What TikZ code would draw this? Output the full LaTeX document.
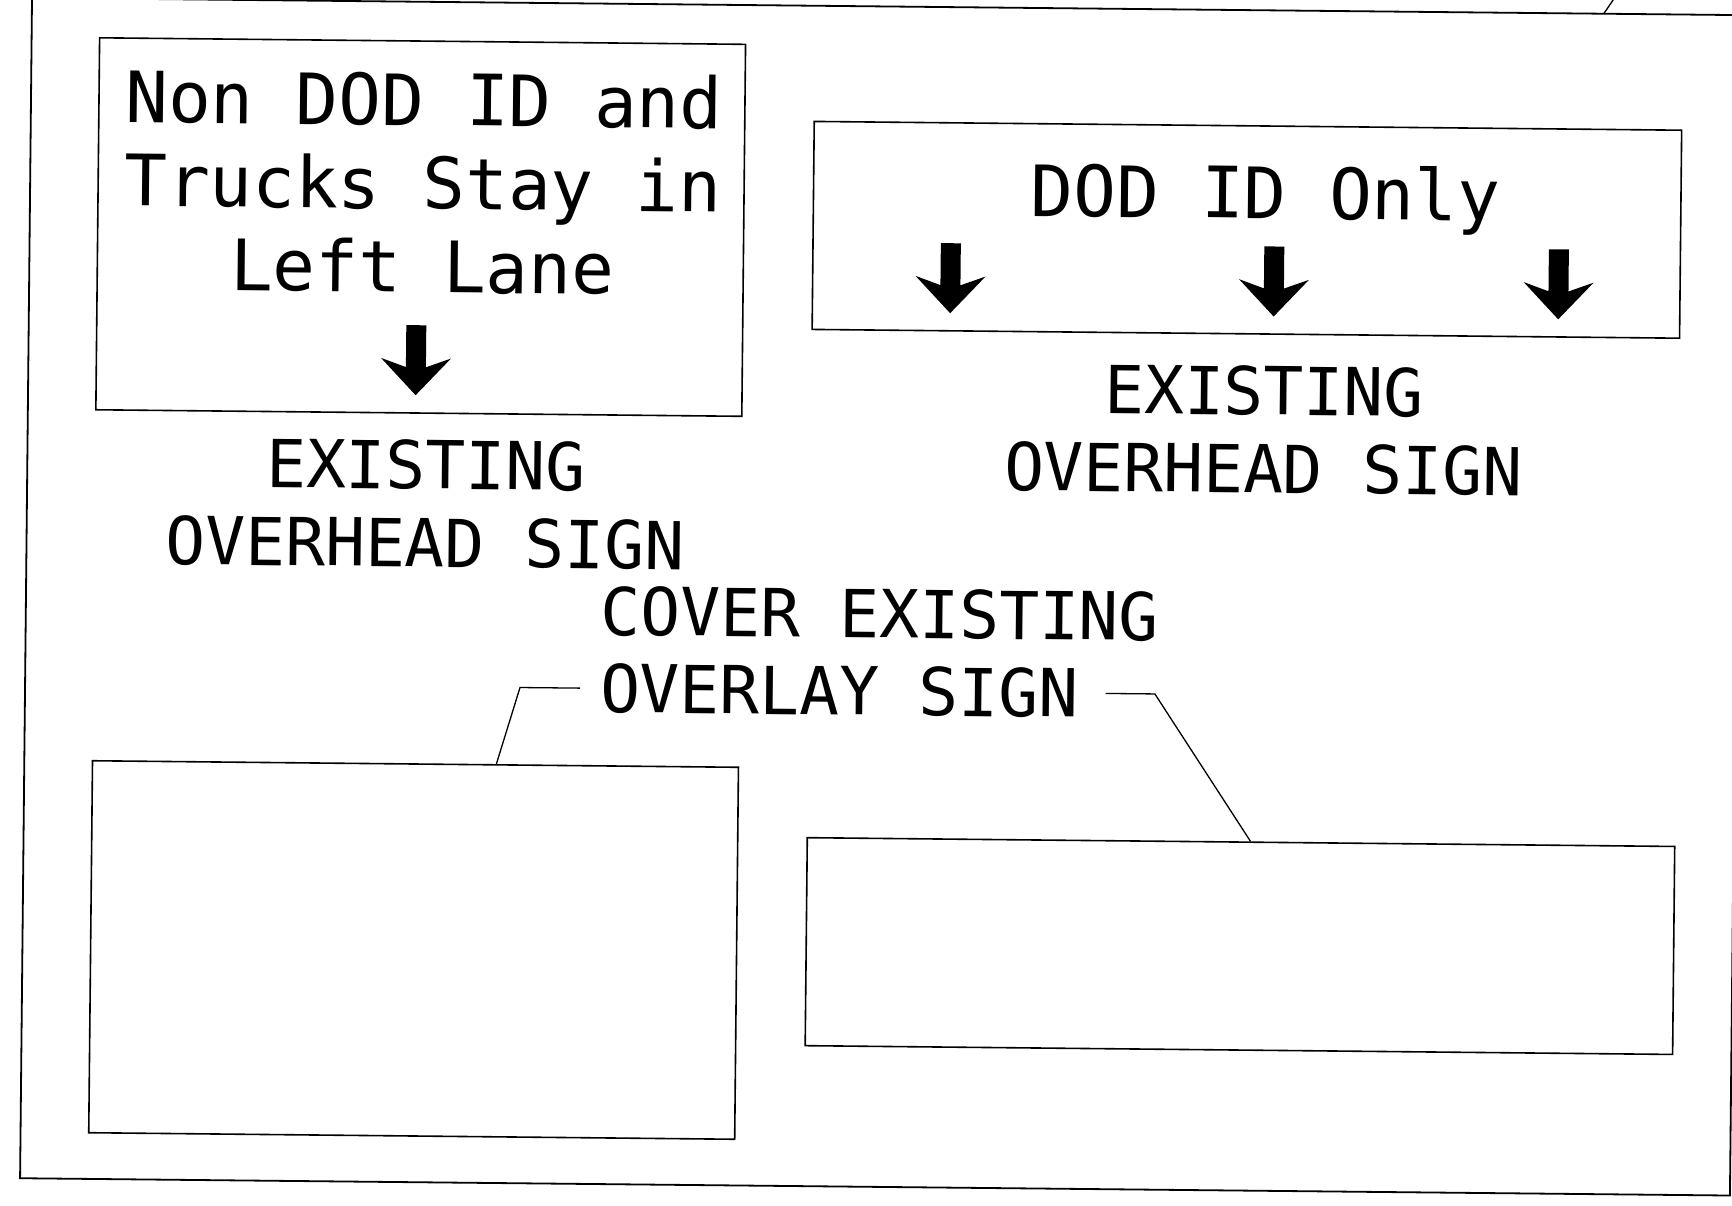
\documentclass[tikz,border=0pt]{standalone}
\usepackage{fontspec}
\newfontfamily\signfnt{DejaVu Sans Mono}
\usetikzlibrary{calc}
\tikzset{
  signbox/.style={draw, line width=1.6pt, inner sep=0pt},
  signtxt/.style={font=\signfnt\fontsize{70.8}{83.5}\selectfont, inner sep=0pt, align=center},
  lbltxt/.style={font=\signfnt\fontsize{66.2}{78}\selectfont, inner sep=0pt},
  leader/.style={line width=1.3pt},
  blkarrow/.pic={\fill (-10,0) -- (10,0) -- (10,42) -- (35,33) -- (0,70) -- (-35,33) -- (-10,42) -- cycle;}
}

\begin{document}
\begin{tikzpicture}[x=1pt, y=-1pt]
  \clip (0,0) rectangle (1732,1206);
  \fill[white] (0,0) rectangle (1732,1206);
  \begin{scope}[rotate=-0.58, transform shape]
    % sheet frame
    \draw[line width=1.8pt] (32,-2.5) rectangle (1742,1178);
    \coordinate (frmT) at (1604,-2.5);
    \draw[leader] (frmT) -- ++(20,-30);

    % existing signs
    \node[signbox, minimum width=646pt, minimum height=372pt] (sgnL) at (423,222.8) {};
    \node[signbox, minimum width=867.5pt, minimum height=208pt] (sgnR) at (1249.2,217.2) {};
    \node[signtxt, anchor=base] (txtL) at (425,288.2) {Non DOD ID and\\Trucks Stay in\\Left Lane};
    \node[signtxt, anchor=base] (txtR) at (1267.5,205.8) {DOD ID Only};
    \pic at (419.6,321) {blkarrow};
    \foreach \ax in {953.3,1276.8,1561.4}
      \pic at (\ax,233.6) {blkarrow};

    \node[lbltxt, align=center, anchor=base] (exL) at (430.6,562.6) {EXISTING\\OVERHEAD SIGN};
    \node[lbltxt, align=center, anchor=base] (exR) at (1268,480.1) {EXISTING\\OVERHEAD SIGN};

    % overlay covers
    \node[signbox, minimum width=646pt, minimum height=372pt] (covL) at (423.2,945.8) {};
    \node[signbox, minimum width=867.5pt, minimum height=208pt] (covR) at (1249.5,933.5) {};
    \node[lbltxt, anchor=base west] (covA) at (607,629) {COVER EXISTING};
    \node[lbltxt, anchor=base west] (covB) at (607,706.4) {OVERLAY SIGN};

    \draw[leader] ([xshift=-20pt]covB.west) -- ++(-60,0) -- ($(covL.north west)!0.625!(covL.north east)$);
    \draw[leader] ([xshift=27pt]covB.east) -- ++(49.3,0) -- ($(covR.north west)!0.511!(covR.north east)$);
  \end{scope}
\end{tikzpicture}
\end{document}
